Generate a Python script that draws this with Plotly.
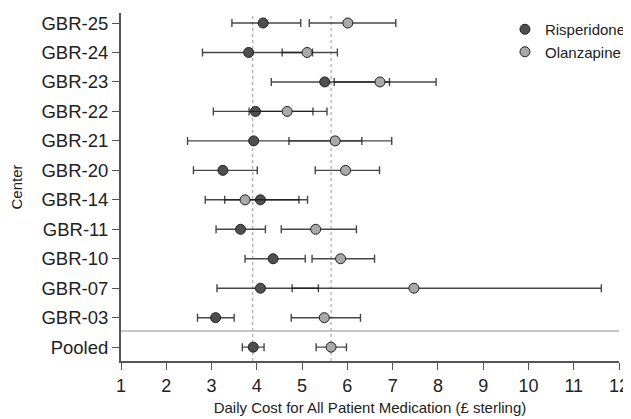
import plotly.graph_objects as go

centers = ["GBR-25", "GBR-24", "GBR-23", "GBR-22", "GBR-21", "GBR-20",
           "GBR-14", "GBR-11", "GBR-10", "GBR-07", "GBR-03", "Pooled"]

risp_mean = [4.14, 3.82, 5.50, 3.97, 3.93, 3.25, 4.08, 3.64, 4.36, 4.08, 3.09, 3.92]
risp_low  = [3.45, 2.80, 4.32, 3.04, 2.47, 2.60, 3.29, 3.10, 3.74, 3.12, 2.69, 3.68]
risp_high = [4.97, 5.23, 6.93, 5.24, 6.32, 4.01, 5.12, 4.19, 5.07, 5.36, 3.50, 4.16]

olan_mean = [6.01, 5.11, 6.72, 4.67, 5.73, 5.96, 3.74, 5.30, 5.85, 7.47, 5.49, 5.64]
olan_low  = [5.16, 4.56, 5.71, 3.83, 4.71, 5.29, 2.86, 4.54, 5.22, 4.78, 4.76, 5.31]
olan_high = [7.07, 5.78, 7.96, 5.55, 6.98, 6.71, 4.93, 6.20, 6.60, 11.61, 6.29, 5.98]

pooled_ref = [3.91, 5.64]

x_ticks = list(range(1, 13))

REG = "Liberation Sans, Arial, sans-serif"

fig = go.Figure()

def add_series(name, mean, low, high, fill, errcol):
    fig.add_trace(go.Scatter(
        x=mean, y=centers, mode="markers", name=name,
        marker=dict(size=10, color=fill, line=dict(color="#222222", width=1)),
        error_x=dict(type="data", symmetric=False,
                     array=[h - m for h, m in zip(high, mean)],
                     arrayminus=[m - l for m, l in zip(mean, low)],
                     color=errcol, thickness=1.4, width=4),
    ))

add_series("Risperidone", risp_mean, risp_low, risp_high, "#4f4f4f", "rgba(25,25,25,0.8)")
add_series("Olanzapine", olan_mean, olan_low, olan_high, "#a9a9a9", "rgba(25,25,25,0.8)")

for v in pooled_ref:
    fig.add_shape(type="line", xref="x", yref="paper", x0=v, x1=v, y0=0, y1=1,
                  line=dict(color="#9a9a9a", width=1, dash="dot"), layer="below")

fig.add_shape(type="line", xref="paper", yref="y", x0=0, x1=1.0, y0=0.55, y1=0.55,
              line=dict(color="#b5b5b5", width=1.5), layer="below")

fig.update_layout(
    width=631, height=419,
    margin=dict(l=113, r=20, t=5, b=66),
    paper_bgcolor="white", plot_bgcolor="white",
    font=dict(family=REG, color="#222222", size=18),
    showlegend=True,
    legend=dict(x=0.771, y=1.0, xanchor="left", yanchor="top",
                font=dict(size=15, family=REG), bgcolor="rgba(0,0,0,0)",
                tracegroupgap=0, itemsizing="trace"),
    xaxis=dict(range=[1, 12], tickvals=x_ticks, ticktext=[str(t) for t in x_ticks],
               ticks="outside", ticklen=7, tickwidth=1.2, tickcolor="#555555",
               showline=True, linecolor="#555555", linewidth=2,
               showgrid=False, zeroline=False, automargin=False,
               tickfont=dict(size=18, family=REG),
               title=dict(text="Daily Cost for All Patient Medication (£ sterling)",
                          font=dict(size=15, family=REG), standoff=8)),
    yaxis=dict(type="category", categoryorder="array",
               categoryarray=list(reversed(centers)),
               range=[-0.47, 11.34],
               ticks="outside", ticklen=7, tickwidth=1.2, tickcolor="#555555",
               showline=True, linecolor="#555555", linewidth=2,
               showgrid=False, zeroline=False, automargin=False,
               tickfont=dict(size=18.5, family=REG),
               title=dict(text="Center", font=dict(size=15, family=REG), standoff=18)),
)

fig.write_html("out.html")
